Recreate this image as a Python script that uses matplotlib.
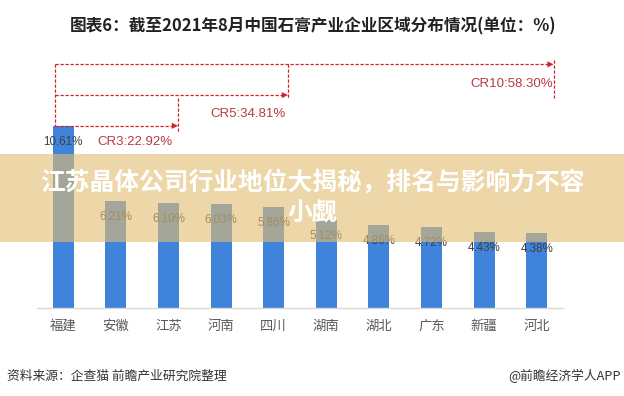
import matplotlib
matplotlib.use("Agg")
import matplotlib.pyplot as plt
from matplotlib.patches import Rectangle

plt.rcParams['font.family'] = ['Noto Sans CJK SC', 'DejaVu Sans']

# ---- data ----
regions = ["福建", "安徽", "江苏", "河南", "四川", "湖南", "湖北", "广东", "新疆", "河北"]
shares = [10.61, 6.21, 6.10, 6.03, 5.86, 5.12, 4.86, 4.72, 4.43, 4.38]
cr_labels = ["CR3:22.92%", "CR5:34.81%", "CR10:58.30%"]
title = "图表6：截至2021年8月中国石膏产业企业区域分布情况(单位：%)"
source = "资料来源：企查猫 前瞻产业研究院整理"
credit = "@前瞻经济学人APP"
banner = "江苏晶体公司行业地位大揭秘，排名与影响力不容\n小觑"

W, H = 624, 396
fig = plt.figure(figsize=(W / 100, H / 100), dpi=100)
fig.patch.set_facecolor("white")

# axes: x 37..563 px, y 56..308 px
ax = fig.add_axes([37 / W, (H - 308) / H, 526 / W, 252 / H])
ax.set_facecolor("none")
x = list(range(len(regions)))
bar_color = "#3F83DB"
ax.bar(x, shares, width=0.4, color=bar_color, zorder=2)
ax.set_xlim(-0.5, len(regions) - 0.5)
ax.set_ylim(0, 252 / 17.17)

for s in ["left", "right", "top"]:
    ax.spines[s].set_visible(False)
ax.spines["bottom"].set_color("#d9d9d9")
ax.spines["bottom"].set_linewidth(1)
ax.set_yticks([])
ax.set_xticks(x)
ax.set_xticklabels(regions, fontsize=9.6, color="#595959")
ax.tick_params(axis="x", length=0, pad=8)

# value labels (inside end)
for xi, v in zip(x, shares):
    ax.annotate(f"{v:.2f}%", xy=(xi, v), xytext=(0, -11.5), textcoords="offset points",
                ha="center", va="center", fontsize=8.4, color="#404040",
                family=["Liberation Sans", "DejaVu Sans"], zorder=3)

# CR annotation lines
red = "#D0202A"
txt_red = "#B83A45"
ds = (0, (2.6, 1.4))
lw = 0.9
x0 = -0.15
y_cr10, y_cr5, y_cr3 = 14.19, 12.40, shares[0]
ax.plot([x0, x0], [y_cr10, shares[0]], color=red, lw=lw, ls=ds, zorder=4)
for xe, ye in [(2.18, y_cr3), (4.27, y_cr5), (9.32, y_cr10)]:
    ax.plot([x0, xe - 0.08], [ye, ye], color=red, lw=lw, ls=ds, zorder=4)
    ax.annotate("", xy=(xe, ye), xytext=(xe - 0.2, ye),
                arrowprops=dict(arrowstyle="-|>", color=red, lw=0.01,
                                mutation_scale=11, shrinkA=0, shrinkB=0), zorder=4)
ax.plot([2.18, 2.18], [12.23, 10.19], color=red, lw=lw, ls=ds, zorder=4)
ax.plot([4.27, 4.27], [14.19, 12.23], color=red, lw=lw, ls=ds, zorder=4)
ax.plot([9.32, 9.32], [14.44, 12.21], color=red, lw=lw, ls=ds, zorder=4)

for (tx, ty), lab in zip([(1.36, 9.67), (3.51, 11.30), (8.52, 13.05)], cr_labels):
    ax.text(tx, ty, lab, ha="center", va="center", fontsize=9.5, color=txt_red,
            family=["Liberation Sans", "DejaVu Sans"], zorder=4)

# title
fig.text(313 / W, 1 - 26 / H, title, ha="center", va="center", fontsize=12,
         weight="bold", color="#222222")

# footer
fig.text(7 / W, 1 - 376 / H, source, ha="left", va="center", fontsize=9.2, color="#333333")
fig.text(621 / W, 1 - 376 / H, credit, ha="right", va="center", fontsize=9.2, color="#333333")

# overlay banner
rect = Rectangle((0, 1 - 242 / H), 1, 88 / H, transform=fig.transFigure,
                 facecolor=(0.89, 0.74, 0.45), alpha=0.62, edgecolor="none", zorder=10)
fig.add_artist(rect)
fig.text(312 / W, 1 - 198 / H, banner, ha="center", va="center", fontsize=17.8,
         weight="bold", color="white", zorder=11, linespacing=1.35)

fig.savefig("out.png", dpi=100)
